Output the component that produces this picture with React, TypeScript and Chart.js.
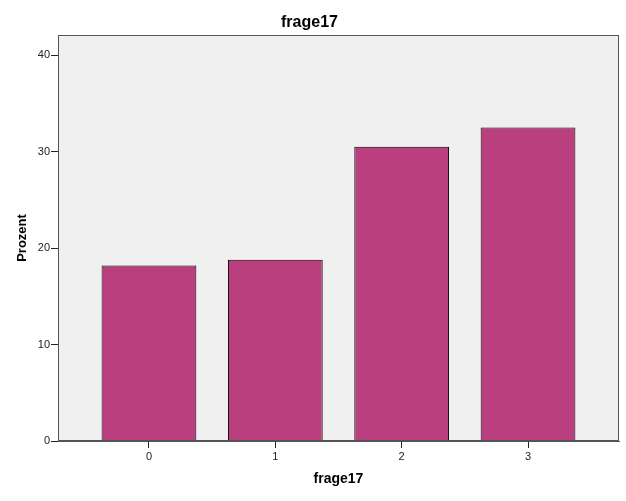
import { useEffect, useRef } from "react";
import { Chart, registerables } from "chart.js";

Chart.register(...registerables);

const categories = [0, 1, 2, 3];
const percentValues = [18.2, 18.8, 30.5, 32.5];
const yTickValues = [0, 10, 20, 30, 40];
const chartTitle = "frage17";
const xAxisTitle = "frage17";
const yAxisTitle = "Prozent";

const FONT = "'Liberation Sans', Arial, sans-serif";

const plotFrame = {
  id: "plotFrame",
  beforeDraw(chart: any) {
    const { ctx, chartArea } = chart;
    if (!chartArea) return;
    ctx.save();
    ctx.fillStyle = "#F0F0F0";
    ctx.fillRect(chartArea.left, chartArea.top, chartArea.right - chartArea.left, chartArea.bottom - chartArea.top);
    ctx.restore();
  },
  afterDraw(chart: any) {
    const { ctx, chartArea } = chart;
    if (!chartArea) return;
    ctx.save();
    ctx.strokeStyle = "#555555";
    ctx.lineWidth = 1;
    ctx.strokeRect(
      Math.round(chartArea.left) + 0.5,
      Math.round(chartArea.top) + 0.5,
      Math.round(chartArea.right - chartArea.left) - 1,
      Math.round(chartArea.bottom - chartArea.top) - 1
    );
    ctx.restore();
  },
};

export default function App() {
  const canvasRef = useRef<HTMLCanvasElement | null>(null);

  useEffect(() => {
    if (!canvasRef.current) return;
    const chart = new Chart(canvasRef.current, {
      type: "bar",
      data: {
        datasets: [
          {
            data: categories.map((c, i) => ({ x: c, y: percentValues[i] })),
            backgroundColor: "#BA3F7E",
            borderColor: "#000000",
            borderWidth: 1,
            barPercentage: 0.75,
            categoryPercentage: 1,
          } as any,
        ],
      },
      options: {
        animation: false,
        responsive: true,
        maintainAspectRatio: false,
        layout: { padding: { left: 0, right: 7, top: 0, bottom: 0 } },
        plugins: {
          legend: { display: false },
          tooltip: { enabled: false },
          title: {
            display: true,
            text: chartTitle,
            color: "#000",
            font: { family: FONT, size: 16, weight: "bold", lineHeight: 1.2 },
            padding: { top: 13, bottom: 2.8 },
          },
        },
        scales: {
          x: {
            type: "linear",
            min: -0.72,
            max: 3.72,
            offset: false,
            afterBuildTicks: (s: any) => {
              s.ticks = categories.map((v) => ({ value: v }));
            },
            afterFit: (s: any) => {
              s.height = 60;
            },
            grid: { offset: false, drawOnChartArea: false, drawTicks: true, tickLength: 7, color: "#222" },
            border: { display: true, color: "#555" },
            ticks: {
              autoSkip: false,
              maxRotation: 0,
              padding: 2,
              color: "#222",
              font: { family: FONT, size: 11 },
              callback: (v: any) => String(v),
            },
            title: {
              display: true,
              text: xAxisTitle,
              color: "#000",
              font: { family: FONT, size: 14, weight: "bold", lineHeight: 1.2 },
              padding: { top: 0, bottom: 13.6 },
            },
          },
          y: {
            type: "linear",
            min: 0,
            max: 42.1,
            afterBuildTicks: (s: any) => {
              s.ticks = yTickValues.map((v) => ({ value: v }));
            },
            afterFit: (s: any) => {
              s.width = 58;
            },
            grid: { drawOnChartArea: false, drawTicks: true, tickLength: 7, color: "#222" },
            border: { display: true, color: "#555" },
            ticks: {
              padding: 1,
              color: "#222",
              font: { family: FONT, size: 11 },
              callback: (v: any) => String(v),
            },
            title: {
              display: true,
              text: yAxisTitle,
              color: "#000",
              font: { family: FONT, size: 13, weight: "bold", lineHeight: 1.2 },
              padding: { top: 15, bottom: 0 },
            },
          },
        },
      },
      plugins: [plotFrame],
    });
    return () => chart.destroy();
  }, []);

  return (
    <div style={{ position: "absolute", left: 0, top: 0, width: 626, height: 501, background: "#fff" }}>
      <canvas ref={canvasRef} />
    </div>
  );
}
